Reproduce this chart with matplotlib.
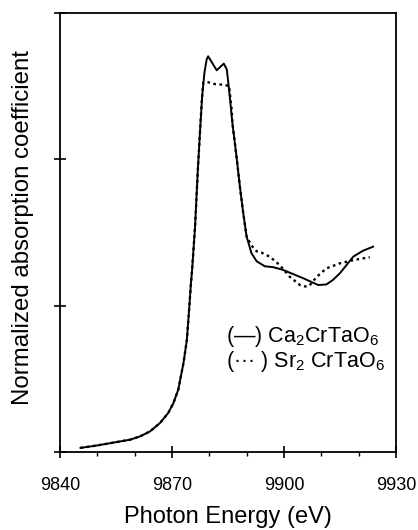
import numpy as np
import matplotlib.pyplot as plt
from matplotlib.ticker import MultipleLocator

plt.rcParams['font.family'] = ['Liberation Sans', 'DejaVu Sans']
plt.rcParams['mathtext.fontset'] = 'custom'
plt.rcParams['mathtext.rm'] = 'Liberation Sans'

# Ca2CrTaO6 (solid)
ca_e = [9845.5, 9849.8, 9856.1, 9858.8, 9861.4, 9864.1, 9866.8, 9869.0, 9870.4,
        9871.7, 9873.1, 9874.0, 9874.6, 9875.1, 9875.4, 9876.2, 9876.9, 9877.5,
        9878.1, 9878.7, 9879.3, 9879.7, 9882.0, 9883.9, 9884.7, 9885.3, 9886.2,
        9887.3, 9888.2, 9889.1, 9890.0, 9891.3, 9892.7, 9894.9, 9897.1, 9899.7,
        9905.2, 9909.2, 9911.4, 9913.1, 9915.0, 9918.6, 9921.2, 9923.9]
ca_mu = [0.014, 0.022, 0.036, 0.042, 0.053, 0.070, 0.099, 0.133, 0.167,
         0.213, 0.304, 0.383, 0.486, 0.577, 0.622, 0.770, 0.953, 1.089,
         1.214, 1.294, 1.340, 1.351, 1.303, 1.326, 1.306, 1.238, 1.123,
         1.009, 0.907, 0.816, 0.736, 0.679, 0.651, 0.634, 0.631, 0.622,
         0.593, 0.570, 0.572, 0.587, 0.610, 0.667, 0.687, 0.701]

# Sr2CrTaO6 (dotted)
sr_e = [9845.5, 9849.8, 9856.1, 9858.8, 9861.4, 9864.1, 9866.8, 9869.0, 9870.4,
        9871.7, 9873.1, 9874.0, 9874.6, 9875.1, 9875.4, 9876.2, 9876.9, 9877.5,
        9878.0, 9878.4, 9879.8, 9881.5, 9883.5, 9885.3, 9886.0, 9886.2, 9887.3,
        9888.2, 9889.1, 9890.0, 9891.3, 9892.7, 9894.1, 9896.3, 9898.9, 9901.6,
        9904.3, 9906.1, 9907.2, 9908.8, 9911.4, 9915.0, 9918.6, 9923.0]
sr_mu = [0.014, 0.022, 0.036, 0.042, 0.053, 0.070, 0.099, 0.133, 0.167,
         0.213, 0.304, 0.383, 0.486, 0.577, 0.622, 0.770, 0.953, 1.089,
         1.200, 1.261, 1.262, 1.256, 1.254, 1.250, 1.170, 1.123, 1.009,
         0.907, 0.816, 0.736, 0.705, 0.685, 0.680, 0.666, 0.638, 0.598,
         0.570, 0.564, 0.573, 0.598, 0.627, 0.644, 0.655, 0.665]

fig = plt.figure(figsize=(4.18, 5.30), dpi=100)
ax = fig.add_axes([0.1435, 0.1472, 0.8035, 0.829])

ax.plot(ca_e, ca_mu, color='black', lw=1.4)
ax.plot(sr_e, sr_mu, color='black', lw=1.7, linestyle=(0, (1.1, 1.5)))

ax.set_xlim(9840, 9930)
ax.set_ylim(0, 1.5)
ax.xaxis.set_major_locator(MultipleLocator(30))
ax.xaxis.set_minor_locator(MultipleLocator(10))
ax.yaxis.set_major_locator(MultipleLocator(0.5))
ax.set_yticklabels([])
ax.tick_params(axis='both', which='major', direction='inout', length=9, width=1.2,
               labelsize=13, pad=13.5)
ax.tick_params(axis='x', which='minor', direction='out', length=3, width=1)
for s in ax.spines.values():
    s.set_linewidth(1.3)

ax.set_xlabel('Photon Energy (eV)', fontsize=17, labelpad=9)
ax.set_ylabel('Normalized absorption coefficient', fontsize=17.3)
ax.yaxis.set_label_coords(-0.076, 0.511)

ax.text(0.495, 0.263, '(\u2014) Ca$_\\mathregular{2}$CrTaO$_\\mathregular{6}$',
        transform=ax.transAxes, fontsize=15.5, va='center', ha='left')
ax.text(0.495, 0.205, '(\u00b7\u00b7\u00b7 ) Sr$_\\mathregular{2}$ CrTaO$_\\mathregular{6}$',
        transform=ax.transAxes, fontsize=15.5, va='center', ha='left')

fig.savefig('out.png', dpi=100)
